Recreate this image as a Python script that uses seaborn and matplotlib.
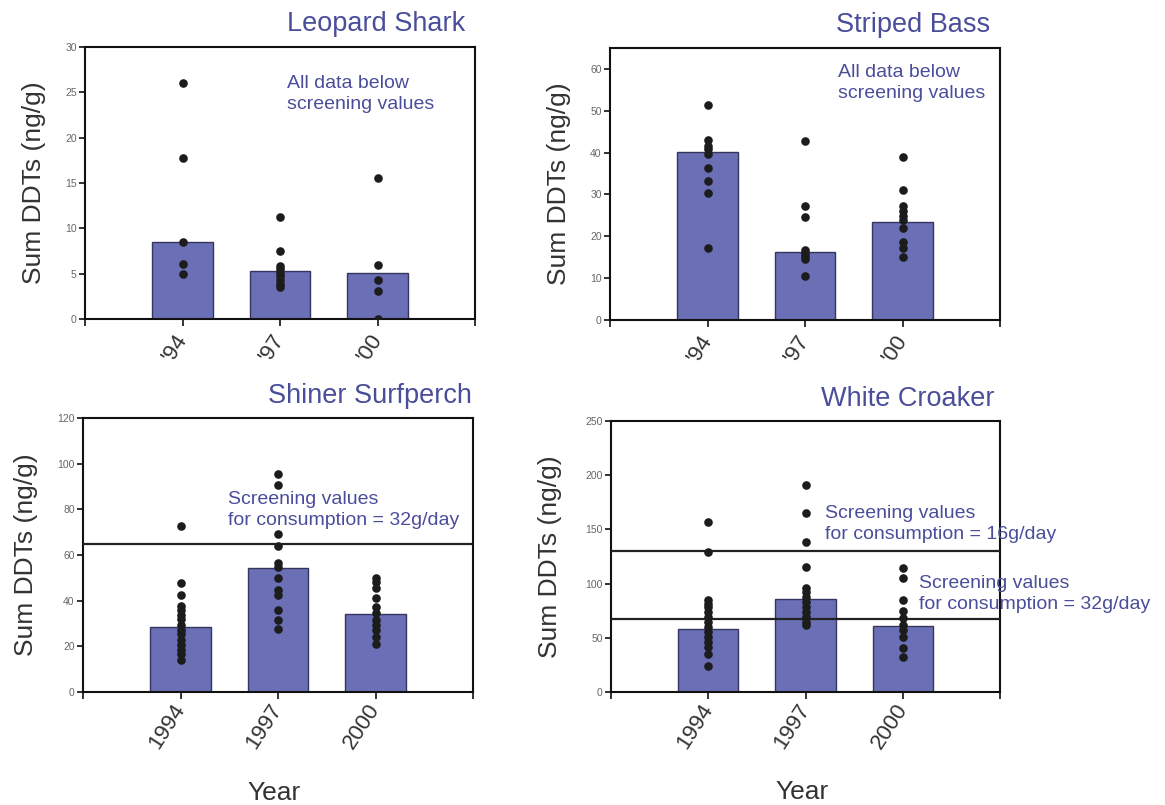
import matplotlib
matplotlib.use("Agg")
import matplotlib.pyplot as plt
import numpy as np
import pandas as pd
import seaborn as sns

sns.set_theme(style="white")
plt.rcParams["font.family"] = ["Liberation Sans", "DejaVu Sans"]

# ---------------- data ----------------
short_years = ["'94", "'97", "'00"]
full_years = ["1994", "1997", "2000"]

shark_bars = [8.5, 5.3, 5.1]
shark_94 = [26.0, 17.8, 8.5, 6.1, 5.0]
shark_97 = [11.2, 7.5, 5.9, 5.5, 5.1, 4.7, 4.3, 3.9, 3.5]
shark_00 = [15.5, 6.0, 4.3, 3.1, 0.0]

bass_bars = [40.1, 16.3, 23.4]
bass_94 = [51.4, 42.9, 41.7, 40.8, 39.7, 36.4, 33.1, 30.4, 17.1]
bass_97 = [42.8, 27.2, 24.6, 16.7, 16.0, 15.3, 14.6, 10.6]
bass_00 = [38.9, 31.0, 27.2, 26.0, 24.8, 23.8, 22.0, 18.7, 17.1, 15.1]

surf_bars = [28.5, 54.4, 34.1]
surf_94 = [72.7, 47.6, 42.7, 37.6, 35.9, 33.7, 31.8, 29.3, 27.1, 25.2, 22.7,
           20.5, 18.6, 16.5, 13.9]
surf_97 = [95.6, 90.7, 69.1, 64.1, 56.3, 54.6, 49.8, 44.6, 42.4, 35.9, 31.5, 27.4]
surf_00 = [49.8, 48.3, 45.4, 41.0, 37.3, 34.4, 31.5, 29.3, 27.1, 24.1, 21.2]

croak_bars = [58.5, 85.8, 61.1]
croak_94 = [157, 129.4, 84.9, 81.2, 78.4, 73.8, 69.2, 64.6, 60.0, 55.4, 50.8,
            46.1, 41.5, 35.4, 24.0]
croak_97 = [191, 164.8, 138.7, 115, 95.6, 92.6, 88.0, 83.4, 78.8, 74.2, 69.6,
            65.0, 62.0]
croak_00 = [114, 104.9, 84.9, 74.7, 68.0, 61.8, 57.2, 51.0, 40.3, 32.6]

panels = [
    dict(title="Leopard Shark", cats=short_years, bars=shark_bars,
         points=[shark_94, shark_97, shark_00], ymax=30, ystep=5,
         lines=[], notes=["All data below\nscreening values"]),
    dict(title="Striped Bass", cats=short_years, bars=bass_bars,
         points=[bass_94, bass_97, bass_00], ymax=65, ystep=10,
         lines=[], notes=["All data below\nscreening values"]),
    dict(title="Shiner Surfperch", cats=full_years, bars=surf_bars,
         points=[surf_94, surf_97, surf_00], ymax=120, ystep=20,
         lines=[65], notes=["Screening values\nfor consumption = 32g/day"]),
    dict(title="White Croaker", cats=full_years, bars=croak_bars,
         points=[croak_94, croak_97, croak_00], ymax=250, ystep=50,
         lines=[130, 67], notes=["Screening values\nfor consumption = 16g/day",
                                 "Screening values\nfor consumption = 32g/day"]),
]

# ---------------- layout / style ----------------
W, H = 1165, 805
boxes_px = [(85, 47, 475, 319), (610, 48, 1000, 320),
            (83, 418, 473, 692), (611, 421, 1000, 692)]
title_pos = [(0.974, 1.085), (0.974, 1.085), (0.997, 1.080), (0.987, 1.082)]
ylabel_x = [-0.10, -0.10, -0.115, -0.125]
note_pos = [[(0.518, 0.898)], [(0.585, 0.942)], [(0.372, 0.735)],
            [(0.55, 0.690), (0.792, 0.432)]]

BAR = "#6a6fb6"
BAR_EDGE = "#34365e"
TXT = "#4a4e9a"
DOT = "#1c1c1c"

fig = plt.figure(figsize=(W / 100, H / 100), dpi=100)
fig.patch.set_facecolor("white")

for i, p in enumerate(panels):
    l, t, r, b = boxes_px[i]
    ax = fig.add_axes([l / W, 1 - b / H, (r - l) / W, (b - t) / H])
    bar_df = pd.DataFrame({"year": p["cats"], "val": p["bars"]})
    sns.barplot(data=bar_df, x="year", y="val", order=p["cats"], ax=ax,
                color=BAR, edgecolor=BAR_EDGE, linewidth=1.0, width=0.62,
                saturation=1, errorbar=None, zorder=2)
    for yv in p["lines"]:
        ax.axhline(yv, color="#222222", lw=1.6, zorder=3)
    rows = []
    for c, vals in zip(p["cats"], p["points"]):
        for v in vals:
            rows.append((c, v))
    pts = pd.DataFrame(rows, columns=["year", "val"])
    sns.stripplot(data=pts, x="year", y="val", order=p["cats"], ax=ax,
                  jitter=False, color=DOT, size=6.2, linewidth=0, zorder=4)

    ax.set_xlim(-1, 3)
    ax.set_ylim(0, p["ymax"])
    ticks = np.arange(0, p["ymax"] + 0.1, p["ystep"])
    ax.set_yticks(ticks)
    ax.set_yticklabels([str(int(v)) for v in ticks])
    ax.set_xticks([0, 1, 2])
    ax.set_xticks([-1, 3], minor=True)

    for s in ax.spines.values():
        s.set_visible(True)
        s.set_color("#111111")
        s.set_linewidth(1.5)

    ax.tick_params(axis="y", which="major", direction="out", length=4, width=1.2,
                   color="#111111", labelsize=7.5, labelcolor="#666666", pad=2,
                   left=True, right=False)
    ax.tick_params(axis="x", which="major", direction="out", length=5, width=1.2,
                   color="#111111", labelsize=16, labelcolor="#333333",
                   pad=7 if i < 2 else 5, bottom=True, top=False)
    ax.tick_params(axis="x", which="minor", direction="out", length=5, width=1.2,
                   color="#111111", bottom=True, top=False)
    for lab in ax.get_xticklabels():
        lab.set_rotation(57)
        lab.set_ha("right")
        lab.set_va("center")
        lab.set_rotation_mode("anchor")

    ax.set_ylabel("Sum DDTs (ng/g)", fontsize=19, color="#333333")
    ax.yaxis.set_label_coords(ylabel_x[i], 0.5)
    if i >= 2:
        ax.set_xlabel("Year", fontsize=19, color="#333333")
        ax.xaxis.set_label_coords(0.49, -0.325)
    else:
        ax.set_xlabel("")

    ax.text(title_pos[i][0], title_pos[i][1], p["title"], transform=ax.transAxes,
            ha="right", va="center", fontsize=19.5, color=TXT)
    for note, (nx, ny) in zip(p["notes"], note_pos[i]):
        ax.text(nx, ny, note, transform=ax.transAxes, ha="left", va="top",
                fontsize=14, color=TXT, linespacing=1.3, clip_on=False, zorder=5)

fig.savefig("out.png", dpi=100, facecolor="white")
